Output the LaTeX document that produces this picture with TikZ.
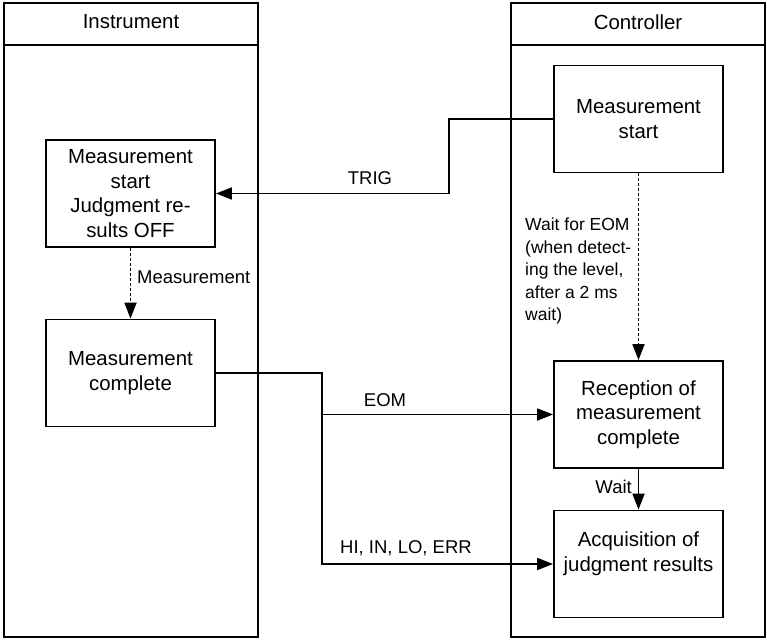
\documentclass[tikz,border=0pt]{standalone}
\usepackage{fontspec}
\setmainfont{Liberation Sans}
\usetikzlibrary{arrows.meta,positioning,calc}
\newcommand{\boxfont}{\fontsize{20.4}{24.5}\selectfont}
\newcommand{\lblfont}{\fontsize{18.5}{22}\selectfont}
\newcommand{\waitfont}{\fontsize{17.5}{22.5}\selectfont}

\begin{document}
\begin{tikzpicture}[x=1pt, y=-1pt,
    lane/.style={draw, line width=2.3pt, minimum width=254pt, minimum height=634pt,
                 inner sep=0pt},
    stepbox/.style={draw, line width=1.8pt, minimum width=169pt, minimum height=107pt,
                    align=center, inner sep=0pt, font=\boxfont},
    lbl/.style={font=\lblfont, inner sep=0pt},
    flow/.style={line width=1.8pt, -{Triangle[length=16pt,width=12pt]}},
    waitflow/.style={flow, dash pattern=on 3pt off 2pt}
  ]
  \useasboundingbox (0,0) rectangle (767,639);

  % lanes
  \node[lane] (inst) at (131,320) {};
  \node[lane] (ctl)  at (638,320) {};
  \coordinate (hdr) at (0,45);
  \draw[line width=1.8pt] (inst.west |- hdr) -- (inst.east |- hdr);
  \draw[line width=1.8pt] (ctl.west |- hdr) -- (ctl.east |- hdr);
  \node[lbl, font=\boxfont] (insthead) at (131,22) {Instrument};
  \node[lbl, font=\boxfont] (ctlhead)  at (638,22) {Controller};

  % instrument side
  \node[stepbox] (istart) at (130.5,193.5) {Measurement\\start\\Judgment re-\\sults OFF};
  \node[stepbox] (icomp)  at (130.5,373)   {Measurement\\complete};

  % controller side
  \node[stepbox] (cstart) at (638.5,119)   {Measurement\\start};
  \node[stepbox] (crecv)  at (638.5,414.5) {Reception of\\measurement\\complete};
  \node[stepbox] (cacq)   at (638.5,564)   {Acquisition of\\judgment results\\~};

  % flows
  \draw[waitflow] (istart.south) -- (icomp.north);
  \node[lbl, anchor=west] (measlbl) at (137,277) {Measurement};

  \draw[waitflow] (cstart.south) -- (crecv.north);
  \node[lbl, font=\waitfont, align=left, anchor=north west] (waitlbl) at (525,218)
    {Wait for EOM\\(when detect-\\ing the level,\\after a 2 ms\\wait)};

  \draw[flow] (crecv.south) -- (cacq.north);
  \node[lbl, anchor=east] (waitshort) at (632,487) {Wait};

  % signal lines
  \coordinate (trigbend) at (449,0);
  \coordinate (bus) at (322,0);
  \draw[flow] (cstart.west) -- (cstart.west -| trigbend) |- (istart.east);
  \node[lbl] (triglbl) at (370,178) {TRIG};

  \draw[flow] (icomp.east) -| (bus |- crecv.west) -- (crecv.west);
  \draw[flow] (bus |- crecv.west) |- (cacq.west);
  \node[lbl] (eomlbl) at (385,400) {EOM};
  \node[lbl] (judglbl) at (406,548) {HI, IN, LO, ERR};
\end{tikzpicture}
\end{document}
